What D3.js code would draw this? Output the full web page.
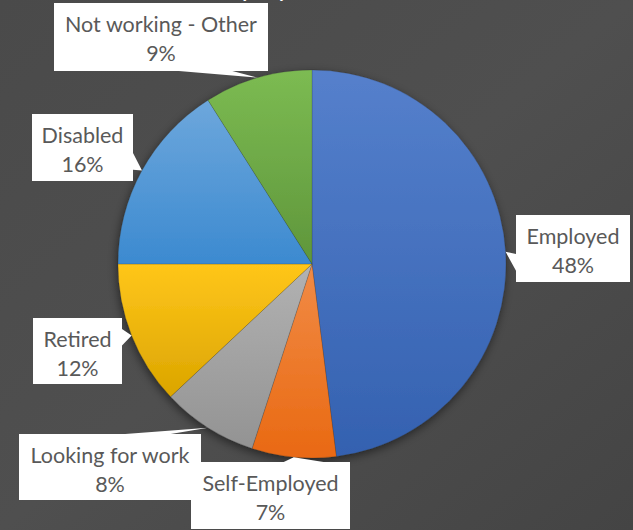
<!DOCTYPE html>
<html>
<head>
<meta charset="utf-8">
<script src="https://cdn.jsdelivr.net/npm/d3@7"></script>
<style>
  html, body { margin: 0; padding: 0; background: #4a4a4a; }
  svg { display: block; }
</style>
</head>
<body>
<div id="chart"></div>
<script>
// Employment status breakdown (share of respondents, %)
const categories = ["Employed", "Self-Employed", "Looking for work", "Retired", "Disabled", "Not working - Other"];
const shares = [48, 7, 8, 12, 16, 9];
const chartTitle = "Employment Status";

// Slice palette, in category order
const palette = ["#4472C4", "#ED7D31", "#A5A5A5", "#FFC000", "#5B9BD5", "#70AD47"];

// Callout boxes: box rectangle and which edge carries the pointer
const callouts = {
  "Employed":            { x: 516, y: 215, w: 114, h: 67, side: "left" },
  "Self-Employed":       { x: 191, y: 462, w: 159, h: 67, side: "top" },
  "Looking for work":    { x: 19,  y: 434, w: 182, h: 66, side: "top" },
  "Retired":             { x: 33,  y: 318, w: 89,  h: 66, side: "right" },
  "Disabled":            { x: 32,  y: 114, w: 101, h: 67, side: "right" },
  "Not working - Other": { x: 54,  y: 3,   w: 214, h: 68, side: "bottom" }
};

const width = 633, height = 530;
const cx = 312, cy = 264, radius = 194;

const svg = d3.select("#chart").append("svg")
  .attr("width", width).attr("height", height);

const defs = svg.append("defs");

// Chart area background
const bg = defs.append("linearGradient").attr("id", "bg")
  .attr("x1", 0).attr("y1", 0).attr("x2", 1).attr("y2", 1);
bg.append("stop").attr("offset", 0).attr("stop-color", "#4a4a4a");
bg.append("stop").attr("offset", 0.5).attr("stop-color", "#4f4f4f");
bg.append("stop").attr("offset", 1).attr("stop-color", "#444444");
svg.append("rect").attr("width", width).attr("height", height).attr("fill", "url(#bg)");

// Soft shadow under the pie
const shadow = defs.append("filter").attr("id", "pieShadow")
  .attr("x", "-20%").attr("y", "-20%").attr("width", "140%").attr("height", "140%");
shadow.append("feDropShadow")
  .attr("dx", -1).attr("dy", 3).attr("stdDeviation", 5)
  .attr("flood-color", "#000").attr("flood-opacity", 0.5);

// Per-slice vertical gradient: lighter at the top, deeper at the bottom
palette.forEach((c, i) => {
  const base = d3.hsl(c);
  const top = d3.hsl(base.h, Math.min(1, base.s + 0.02), Math.min(1, base.l + 0.05));
  const bottom = d3.hsl(base.h, Math.min(1, base.s + 0.02), Math.max(0, base.l - 0.07));
  const g = defs.append("linearGradient").attr("id", "slice" + i)
    .attr("x1", 0).attr("y1", 0).attr("x2", 0).attr("y2", 1);
  g.append("stop").attr("offset", 0).attr("stop-color", top.formatHex());
  g.append("stop").attr("offset", 1).attr("stop-color", bottom.formatHex());
});

// Title (sits mostly above the visible area)
svg.append("text")
  .attr("x", 316).attr("y", -4)
  .attr("text-anchor", "middle")
  .attr("font-family", "Lato, 'Open Sans', sans-serif")
  .attr("font-size", 26)
  .attr("fill", "#ffffff")
  .text(chartTitle);

const data = categories.map((c, i) => ({ category: c, value: shares[i], index: i }));

const pie = d3.pie().sort(null).value(d => d.value)
  .startAngle(0).endAngle(2 * Math.PI);
const arcs = pie(data);
const arc = d3.arc().innerRadius(0).outerRadius(radius);

const pieG = svg.append("g")
  .attr("transform", `translate(${cx},${cy})`)
  .attr("filter", "url(#pieShadow)");

pieG.selectAll("path.slice")
  .data(arcs)
  .join("path")
  .attr("class", "slice")
  .attr("d", arc)
  .attr("fill", d => `url(#slice${d.data.index})`)
  .attr("stroke", "rgba(40,40,40,0.35)")
  .attr("stroke-width", 0.5);

// Callout labels with a wedge pointing at each slice's outer edge
function calloutPath(b, tip) {
  const { x, y, w, h, side } = b;
  const p = [];
  if (side === "top" || side === "bottom") {
    const right = tip[0] > x + w / 2;
    const a = x + w * (right ? 7 : 2) / 12, c = x + w * (right ? 10 : 5) / 12;
    if (side === "top") {
      p.push([x, y], [a, y], tip, [c, y], [x + w, y], [x + w, y + h], [x, y + h]);
    } else {
      p.push([x, y], [x + w, y], [x + w, y + h], [c, y + h], tip, [a, y + h], [x, y + h]);
    }
  } else {
    const below = tip[1] > y + h / 2;
    const a = y + h * (below ? 7 : 2) / 12, c = y + h * (below ? 10 : 5) / 12;
    if (side === "right") {
      p.push([x, y], [x + w, y], [x + w, a], tip, [x + w, c], [x + w, y + h], [x, y + h]);
    } else {
      p.push([x, y], [x + w, y], [x + w, y + h], [x, y + h], [x, c], tip, [x, a]);
    }
  }
  return "M" + p.map(q => q.join(",")).join("L") + "Z";
}

const labelG = svg.append("g");
arcs.forEach(d => {
  const b = callouts[d.data.category];
  const mid = (d.startAngle + d.endAngle) / 2;
  const tip = [cx + Math.sin(mid) * radius, cy - Math.cos(mid) * radius];
  labelG.append("path")
    .attr("d", calloutPath(b, tip))
    .attr("fill", "#ffffff");
  const t = labelG.append("text")
    .attr("text-anchor", "middle")
    .attr("font-family", "Lato, 'Open Sans', sans-serif")
    .attr("font-size", 21.5)
    .attr("fill", "#595959");
  t.append("tspan").attr("x", b.x + b.w / 2).attr("y", b.y + 28.5).text(d.data.category);
  t.append("tspan").attr("x", b.x + b.w / 2).attr("y", b.y + 57.5).text(d.data.value + "%");
});
</script>
</body>
</html>
